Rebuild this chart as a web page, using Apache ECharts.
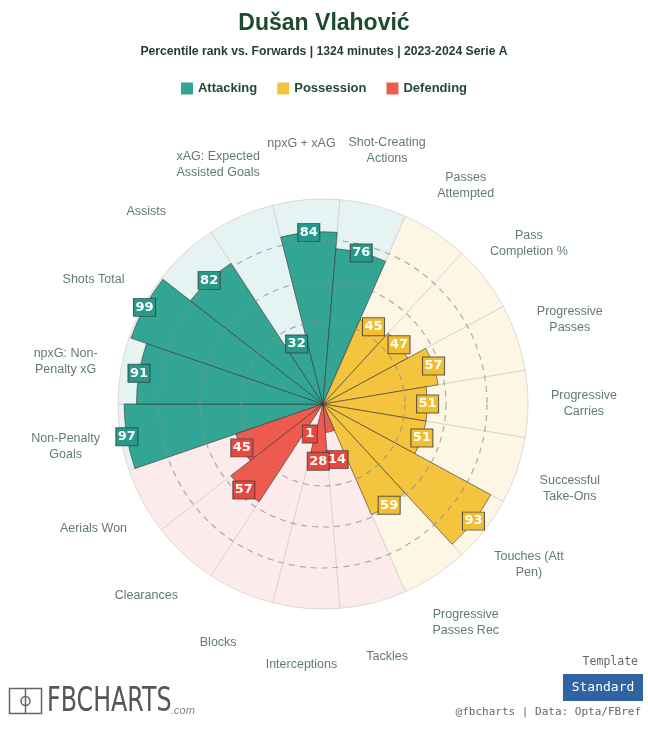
<!DOCTYPE html>
<html>
<head>
<meta charset="utf-8">
<script src="https://cdn.jsdelivr.net/npm/echarts@6/dist/echarts.min.js"></script>
<style>
  html, body { margin: 0; padding: 0; background: #fff; }
  #chart { width: 648px; height: 734px; }
</style>
</head>
<body>
<div id="chart"></div>
<script>
// percentile data, clockwise from Non-Penalty Goals
const categories = [
  'Non-Penalty\nGoals', 'npxG: Non-\nPenalty xG', 'Shots Total', 'Assists',
  'xAG: Expected\nAssisted Goals', 'npxG + xAG', 'Shot-Creating\nActions',
  'Passes\nAttempted', 'Pass\nCompletion %', 'Progressive\nPasses', 'Progressive\nCarries',
  'Successful\nTake-Ons', 'Touches (Att\nPen)', 'Progressive\nPasses Rec',
  'Tackles', 'Interceptions', 'Blocks', 'Clearances', 'Aerials Won'
];
const percentiles = [97, 91, 99, 82, 32, 84, 76, 45, 47, 57, 51, 51, 93, 59, 14, 28, 1, 57, 45];
const groups = [
  'Attacking', 'Attacking', 'Attacking', 'Attacking', 'Attacking', 'Attacking', 'Attacking',
  'Possession', 'Possession', 'Possession', 'Possession', 'Possession', 'Possession', 'Possession',
  'Defending', 'Defending', 'Defending', 'Defending', 'Defending'
];
const groupNames = ['Attacking', 'Possession', 'Defending'];

const barColor = { Attacking: '#33a594', Possession: '#f4c43e', Defending: '#ef5a4f' };
const boxColor = { Attacking: '#27998a', Possession: '#f1be2f', Defending: '#e9473d' };
const bgColor = { Attacking: '#e5f4f2', Possession: '#fdf6e4', Defending: '#fcebea' };

const center = [323, 404];
const R = 205;          // radius of the 100th percentile
const outerMax = 130;   // radius axis max, leaves room for names
const nameR = 127.3;

const labelR = v => (v < 10 ? 16 : Math.max(v, 28));

const chart = echarts.init(document.getElementById('chart'));

const barSeries = groupNames.map(g => ({
  name: g,
  type: 'bar',
  coordinateSystem: 'polar',
  polarIndex: 0,
  barGap: '-100%',
  barCategoryGap: '0%',
  z: 2,
  itemStyle: { color: barColor[g], borderColor: 'rgba(55,55,55,0.75)', borderWidth: 0.8 },
  data: percentiles.map((v, i) => (groups[i] === g ? v : '-'))
}));

chart.setOption({
  backgroundColor: '#fff',
  animation: false,
  title: [
    {
      text: 'Dušan Vlahović',
      left: 'center',
      top: 7,
      textStyle: { fontSize: 23, fontWeight: 'bold', color: '#1d4a33', fontFamily: 'Liberation Sans' }
    },
    {
      text: 'Percentile rank vs. Forwards | 1324 minutes | 2023-2024 Serie A',
      left: 'center',
      top: 41,
      textStyle: { fontSize: 12.2, fontWeight: 'bold', color: '#1f3d2c', fontFamily: 'Liberation Sans' }
    }
  ],
  legend: {
    data: groupNames,
    top: 77,
    left: 'center',
    icon: 'rect',
    itemWidth: 12,
    itemHeight: 12,
    itemGap: 20,
    selectedMode: false,
    itemStyle: { borderWidth: 0 },
    textStyle: { fontSize: 13, fontWeight: 'bold', color: '#1f4a36', fontFamily: 'Liberation Sans' }
  },
  polar: [
    { center: center, radius: R * outerMax / 100 },
    { center: center, radius: R }
  ],
  angleAxis: [
    {
      polarIndex: 0,
      type: 'category',
      data: categories,
      startAngle: 198.95,
      clockwise: true,
      show: false
    },
    {
      polarIndex: 1,
      type: 'value',
      min: 0,
      max: 360,
      show: false
    }
  ],
  radiusAxis: [
    { polarIndex: 0, min: 0, max: outerMax, show: false },
    {
      polarIndex: 1,
      min: 0,
      max: 100,
      interval: 20,
      z: 10,
      axisLine: { show: false },
      axisTick: { show: false },
      axisLabel: { show: false },
      splitLine: {
        show: true,
        lineStyle: {
          color: ['rgba(0,0,0,0)', 'rgba(0,0,0,0)', 'rgba(140,140,140,0.7)',
                  'rgba(140,140,140,0.7)', 'rgba(140,140,140,0.7)', 'rgba(0,0,0,0)'],
          type: [6, 5],
          width: 1.2
        }
      }
    }
  ],
  series: [
    // full-length background wedges
    {
      type: 'bar',
      coordinateSystem: 'polar',
      polarIndex: 0,
      barGap: '-100%',
      barCategoryGap: '0%',
      z: 1,
      silent: true,
      data: percentiles.map((v, i) => ({
        value: 100,
        itemStyle: { color: bgColor[groups[i]], borderColor: '#d6d0cf', borderWidth: 0.8 }
      }))
    },
    ...barSeries,
    // value boxes
    {
      type: 'scatter',
      coordinateSystem: 'polar',
      polarIndex: 0,
      z: 20,
      symbol: 'rect',
      data: percentiles.map((v, i) => ({
        value: [labelR(v), i],
        symbolSize: [String(v).length * 7 + 8, 18],
        itemStyle: { color: boxColor[groups[i]], borderColor: 'rgba(60,60,60,0.8)', borderWidth: 1, opacity: 1 },
        label: {
          show: true,
          position: 'inside',
          formatter: String(v),
          color: '#fff',
          fontSize: 13,
          fontWeight: 'bold',
          fontFamily: 'DejaVu Sans'
        }
      }))
    },
    // category names
    {
      type: 'scatter',
      coordinateSystem: 'polar',
      polarIndex: 0,
      z: 20,
      symbolSize: 0,
      silent: true,
      data: categories.map((c, i) => ({
        value: [nameR, i],
        label: {
          show: true,
          position: 'inside',
          formatter: c,
          color: '#3b574d',
          fontSize: 12.5,
          lineHeight: 16,
          align: 'center',
          fontFamily: 'Liberation Sans'
        }
      }))
    }
  ],
  graphic: [
    // FBCHARTS logo
    { type: 'rect', shape: { x: 9.5, y: 688.5, width: 32, height: 25 }, style: { fill: 'none', stroke: '#666', lineWidth: 1.5 } },
    { type: 'line', shape: { x1: 25.5, y1: 688.5, x2: 25.5, y2: 713.5 }, style: { stroke: '#666', lineWidth: 1.5 } },
    { type: 'circle', shape: { cx: 25.5, cy: 701, r: 4.5 }, style: { fill: 'none', stroke: '#666', lineWidth: 1.5 } },
    {
      type: 'text', x: 47, y: 686, scaleX: 0.72,
      style: { text: 'FBCHARTS', fill: '#555', fontSize: 33, fontFamily: 'DejaVu Sans', fontWeight: 'normal', letterSpacing: 6 }
    },
    {
      type: 'text', x: 171, y: 705,
      style: { text: '.com', fill: '#888', fontSize: 11, fontStyle: 'italic', fontFamily: 'Liberation Sans' }
    },
    // template badge
    {
      type: 'text', x: 638, y: 656,
      style: { text: 'Template', fill: '#666', fontSize: 11.5, fontFamily: 'DejaVu Sans Mono', align: 'right' }
    },
    { type: 'rect', shape: { x: 563, y: 674, width: 80, height: 27 }, style: { fill: '#2f63a2' } },
    {
      type: 'text', x: 603, y: 687.5,
      style: { text: 'Standard', fill: '#fff', fontSize: 13, fontFamily: 'DejaVu Sans Mono', align: 'center', verticalAlign: 'middle' }
    },
    {
      type: 'text', x: 641, y: 707,
      style: { text: '@fbcharts | Data: Opta/FBref', fill: '#666', fontSize: 11, fontFamily: 'DejaVu Sans Mono', align: 'right' }
    }
  ]
});
</script>
</body>
</html>
